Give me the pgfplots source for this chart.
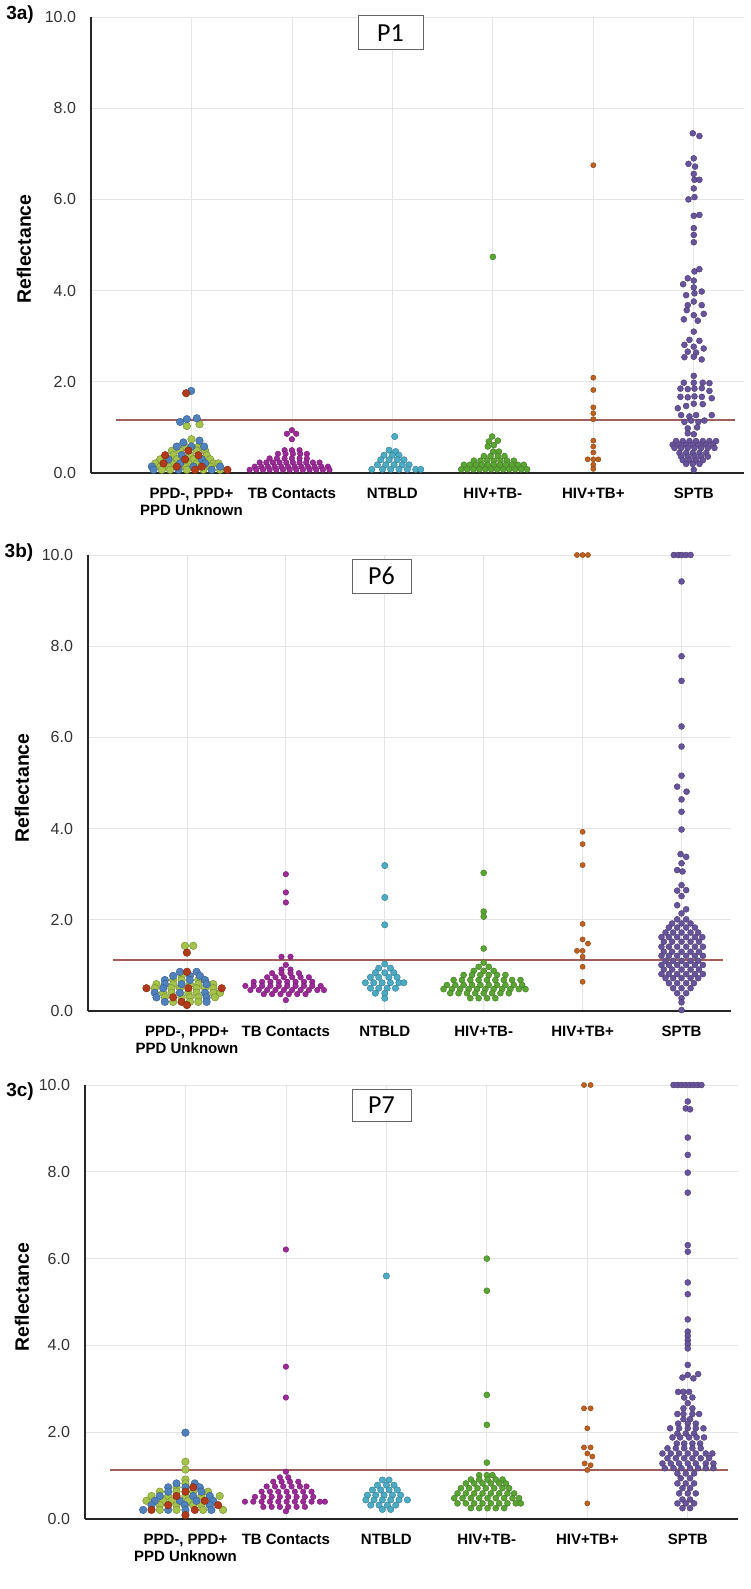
\documentclass[border=0pt]{standalone}
\usepackage{pgfplots}
\pgfplotsset{compat=1.18}
\usepackage{fontspec}
\setmainfont{Liberation Sans}
\newfontfamily\pfont{Carlito}
\definecolor{cblue}{RGB}{79,129,189}
\definecolor{cgreen}{RGB}{165,194,73}
\definecolor{cred}{RGB}{176,58,26}
\definecolor{cmag}{RGB}{158,42,154}
\definecolor{ccyan}{RGB}{75,172,198}
\definecolor{chivn}{RGB}{90,166,50}
\definecolor{chivp}{RGB}{192,96,30}
\definecolor{cpur}{RGB}{104,84,156}
\definecolor{cthr}{RGB}{160,95,90}
\pgfplotsset{
  panel/.style={
    scale only axis,
    xmin=-1, xmax=5.5, ymin=0, ymax=10,
    axis x line=bottom, axis y line=left,
    axis line style={-, line width=0.8pt, black!85},
    xtick={0,1,2,3,4,5},
    xticklabels={{PPD-, PPD+\\PPD Unknown},TB Contacts,NTBLD,HIV+TB-,HIV+TB+,SPTB},
    xticklabel style={align=center, font=\bfseries\fontsize{7.5}{8.5}\selectfont, yshift=-4pt},
    ytick={0,2,4,6,8,10},
    yticklabel={\pgfmathprintnumber[fixed,fixed zerofill,precision=1,assume math mode=true]{\tick}},
    yticklabel style={font=\fontsize{8}{9.6}\selectfont, text=black!80, xshift=-4pt},
    major tick length=0pt,
    grid=major, major grid style={black!10, line width=0.4pt},
    clip=false,
  },
  dot/.style 2 args={only marks, mark=*, mark size=#2, mark options={fill=#1, draw=#1!70!black, line width=0.2pt}},
  ppdb/.style={dot={cblue}{1.9pt}},
  ppdg/.style={dot={cgreen}{1.9pt}},
  ppdr/.style={dot={cred}{1.9pt}},
  tbc/.style={dot={cmag}{1.4pt}},
  ntb/.style={dot={ccyan}{1.6pt}},
  hivn/.style={dot={chivn}{1.5pt}},
  hivp/.style={dot={chivp}{1.3pt}},
  sptb/.style={dot={cpur}{1.5pt}},
  thr/.style={cthr, line width=1.1pt, forget plot},
}
\begin{document}
\begin{tikzpicture}[x=1pt,y=1pt]
\useasboundingbox (0,0) rectangle (375,-794.5);
% ---------------- panel a
\begin{axis}[panel, at={(45.5pt,-236.5pt)}, anchor=south west, width=326.5pt, height=228pt]
\addplot[ppdg] coordinates {(-0.046,1.03) (0.080,1.07) (0,0.74) (-0.063,0.58) (0.070,0.58) (-0.195,0.49) (-0.113,0.49) (0.053,0.49) (0.136,0.49) (-0.179,0.39) (-0.013,0.39) (0.152,0.39) (-0.311,0.30) (-0.146,0.30) (0.020,0.30) (0.186,0.30) (-0.361,0.21) (-0.195,0.21) (-0.030,0.21) (0.053,0.21) (0.219,0.21) (0.268,0.21) (-0.311,0.14) (-0.229,0.14) (-0.063,0.14) (0.186,0.14) (-0.295,0.07) (-0.212,0.07) (-0.046,0.07) (0.119,0.07) (0.285,0.07)};
\addplot[ppdb] coordinates {(-0.003,1.80) (-0.113,1.12) (-0.046,1.18) (0.053,1.20) (-0.080,0.67) (0.080,0.71) (-0.146,0.58) (0,0.58) (0.126,0.58) (-0.096,0.39) (-0.229,0.30) (0.103,0.30) (-0.113,0.21) (0.136,0.21) (-0.394,0.14) (0.020,0.14) (0.285,0.14) (-0.378,0.07) (-0.129,0.07) (0.202,0.07)};
\addplot[ppdr] coordinates {(-0.053,1.75) (-0.030,0.49) (-0.262,0.39) (0.070,0.39) (-0.063,0.30) (-0.278,0.21) (-0.146,0.14) (0.103,0.14) (0.036,0.07) (0.358,0.07)};
\addplot[tbc] coordinates {(1,0.94) (0.950,0.86) (1.043,0.86) (1,0.74)
(0.927,0.50) (1,0.50) (1.076,0.50)
(0.861,0.42) (0.937,0.42) (1.010,0.42) (1.083,0.42) (1.149,0.42)
(0.778,0.32) (0.851,0.32) (0.927,0.32) (1,0.32) (1.076,0.32) (1.149,0.32)
(0.679,0.23) (0.745,0.23) (0.811,0.23) (0.877,0.23) (0.944,0.23) (1.010,0.23) (1.076,0.23) (1.142,0.23) (1.209,0.23) (1.275,0.23)
(0.629,0.14) (0.695,0.14) (0.761,0.14) (0.828,0.14) (0.894,0.14) (0.960,0.14) (1.027,0.14) (1.093,0.14) (1.159,0.14) (1.225,0.14) (1.292,0.14) (1.358,0.14)
(0.579,0.07) (0.645,0.07) (0.712,0.07) (0.778,0.07) (0.844,0.07) (0.911,0.07) (0.977,0.07) (1.043,0.07) (1.109,0.07) (1.176,0.07) (1.242,0.07) (1.308,0.07) (1.374,0.07)};
\addplot[ntb] coordinates {(2.023,0.80) (1.967,0.50) (2.033,0.47)
(1.917,0.39) (2,0.39) (2.066,0.39)
(1.884,0.29) (1.967,0.29) (2.050,0.29) (2.116,0.29)
(1.851,0.18) (1.934,0.18) (2.017,0.18) (2.099,0.18) (2.166,0.18)
(1.795,0.08) (1.901,0.08) (1.983,0.08) (2.066,0.08) (2.149,0.08) (2.232,0.08) (2.282,0.08)};
\addplot[hivn] coordinates {(3,4.74) (2.993,0.80) (2.960,0.69) (3.050,0.71) (2.950,0.58) (3.010,0.61) (3.003,0.47) (3.060,0.47)
(2.911,0.37) (2.977,0.37) (3.050,0.37) (3.116,0.37)
(2.811,0.27) (2.877,0.27) (2.944,0.27) (3.010,0.27) (3.076,0.27) (3.142,0.27) (3.209,0.27)
(2.712,0.18) (2.771,0.18) (2.831,0.18) (2.891,0.18) (2.950,0.18) (3.010,0.18) (3.070,0.18) (3.129,0.18) (3.189,0.18) (3.249,0.18) (3.308,0.18)
(2.685,0.08) (2.745,0.08) (2.805,0.08) (2.864,0.08) (2.924,0.08) (2.983,0.08) (3.043,0.08) (3.103,0.08) (3.162,0.08) (3.222,0.08) (3.282,0.08) (3.341,0.08)};
\addplot[hivp] coordinates {(4,6.75) (4,2.09) (4,1.82) (4,1.44) (4,1.31) (4,1.18) (4,0.71) (4,0.58) (4,0.45) (3.944,0.30) (4,0.30) (4.050,0.30) (4,0.18) (4,0.09)};
\addplot[sptb] coordinates {(4.990,7.45) (5.056,7.39) (5,6.90) (4.947,6.78) (5.013,6.72) (5,6.56) (5.007,6.43) (5.056,6.43) (5,6.24) (4.947,6.00) (5.007,6.05) (5,5.64) (5.056,5.66) (5,5.37) (5,5.22) (5,5.06) (5.007,4.42) (5.056,4.47) (4.940,4.27) (5,4.22) (4.894,4.14) (5,4.07) (4.924,3.90) (5.007,3.94) (5.079,3.98) (5,3.76) (4.940,3.68) (5.079,3.68) (4.930,3.57) (5,3.46) (5.099,3.49) (4.901,3.37) (5.040,3.34) (5,3.10) (4.957,2.92) (5.056,2.90) (4.907,2.81) (5,2.77) (5.099,2.73) (4.940,2.66) (5.023,2.64) (4.907,2.54) (5,2.55) (5.079,2.49) (5,2.13)
(4.901,1.98) (5,1.98) (5.089,1.98) (5.156,1.97)
(4.867,1.85) (4.940,1.84) (5.007,1.85) (5.080,1.86) (5.156,1.80)
(4.867,1.67) (4.940,1.66) (5.007,1.68) (5.080,1.67) (5.179,1.64)
(4.841,1.42) (4.924,1.47) (5,1.52) (5.089,1.51)
(4.874,1.27) (4.957,1.24) (5.023,1.27) (5.179,1.27)
(4.907,1.12) (4.973,1.15) (5.046,1.12) (5.106,1.15)
(4.940,0.98) (5.033,1.00)
(4.940,0.87) (5,0.85)
(4.824,0.70) (4.890,0.70) (4.957,0.70) (5.023,0.70) (5.090,0.70) (5.156,0.70) (5.222,0.70)
(4.790,0.62) (4.857,0.62) (4.924,0.62) (4.990,0.62) (5.057,0.62) (5.124,0.62) (5.190,0.62)
(4.808,0.55) (4.874,0.55) (4.940,0.55) (5.007,0.55) (5.073,0.55) (5.140,0.55) (5.206,0.55)
(4.858,0.44) (4.924,0.44) (4.990,0.44) (5.057,0.44) (5.124,0.44)
(4.874,0.36) (4.940,0.36) (5.007,0.36) (5.073,0.36) (5.140,0.36)
(4.891,0.28) (4.957,0.28) (5.023,0.28) (5.090,0.28)
(4.924,0.20) (4.990,0.20) (5.057,0.20)
(5,0.07)};
\addplot[thr] coordinates {(-0.75,1.16) (5.41,1.16)};
\end{axis}
% ---------------- panel b
\begin{axis}[panel, at={(44pt,-505.5pt)}, anchor=south west, width=321.5pt, height=228pt]
\addplot[ppdg] coordinates {(-0.020,1.43) (0.064,1.43) (-0.054,0.77) (-0.139,0.68) (-0.054,0.68) (0.115,0.68) (-0.308,0.59) (-0.139,0.59) (0.030,0.59) (0.115,0.59) (0.267,0.59) (-0.325,0.50) (-0.156,0.50) (-0.071,0.50) (0.098,0.50) (0.183,0.50) (0.267,0.50) (-0.240,0.40) (-0.156,0.40) (0.014,0.40) (0.098,0.40) (0.267,0.40) (0.335,0.40) (-0.223,0.30) (-0.054,0.30) (0.030,0.30) (0.115,0.30) (0.284,0.30) (-0.139,0.20) (0.030,0.20) (0.115,0.20)};
\addplot[ppdb] coordinates {(-0.071,0.86) (0.098,0.86) (-0.139,0.77) (0.030,0.77) (0.132,0.77) (-0.223,0.68) (0.030,0.68) (0.183,0.68) (-0.223,0.59) (-0.054,0.59) (0.199,0.59) (-0.240,0.50) (-0.325,0.40) (-0.071,0.40) (0.183,0.40) (-0.308,0.30) (0.199,0.30) (-0.223,0.20) (0.199,0.20)};
\addplot[ppdr] coordinates {(0,1.28) (0,0.86) (-0.409,0.50) (0.014,0.50) (0.352,0.50) (-0.139,0.30) (-0.054,0.20) (0,0.13)};
\addplot[tbc] coordinates {(1,3.00) (1,2.60) (1,2.38) (0.956,1.19) (1.047,1.19) (1,1.01)
(0.956,0.91) (1.047,0.91)
(0.861,0.83) (0.956,0.83) (1.047,0.83) (1.132,0.83)
(0.811,0.74) (0.895,0.74) (0.980,0.74) (1.064,0.74) (1.149,0.74) (1.233,0.74)
(0.675,0.64) (0.760,0.64) (0.844,0.64) (0.929,0.64) (1.014,0.64) (1.098,0.64) (1.183,0.64) (1.267,0.64)
(0.591,0.55) (0.675,0.55) (0.760,0.55) (0.844,0.55) (0.929,0.55) (1.014,0.55) (1.098,0.55) (1.183,0.55) (1.267,0.55) (1.352,0.55)
(0.642,0.46) (0.726,0.46) (0.811,0.46) (0.895,0.46) (0.980,0.46) (1.064,0.46) (1.149,0.46) (1.233,0.46) (1.318,0.46) (1.385,0.46)
(0.777,0.37) (0.861,0.37) (0.946,0.37) (1.030,0.37) (1.115,0.37) (1.199,0.37)
(1,0.24)};
\addplot[ntb] coordinates {(2,3.19) (2,2.49) (2,1.89) (2,1.03) (1.939,0.94) (2.057,0.94)
(1.905,0.84) (2,0.84) (2.091,0.84)
(1.855,0.74) (1.939,0.74) (2.041,0.74) (2.125,0.74)
(1.804,0.62) (1.888,0.62) (1.973,0.62) (2.057,0.62) (2.142,0.62) (2.193,0.62)
(1.855,0.50) (1.939,0.50) (2.024,0.50) (2.108,0.50)
(1.905,0.39) (2,0.39) (2,0.28)};
\addplot[hivn] coordinates {(3,3.03) (3,2.18) (3,2.07) (3,1.37) (3,1.06) (2.949,0.97) (3.051,0.97)
(2.899,0.88) (3,0.88) (3.101,0.88)
(2.797,0.79) (2.882,0.79) (2.966,0.79) (3.051,0.79) (3.135,0.79) (3.220,0.79)
(2.696,0.68) (2.780,0.68) (2.865,0.68) (2.949,0.68) (3.034,0.68) (3.118,0.68) (3.203,0.68) (3.287,0.68) (3.372,0.68)
(2.628,0.57) (2.713,0.57) (2.797,0.57) (2.882,0.57) (2.966,0.57) (3.051,0.57) (3.135,0.57) (3.220,0.57) (3.304,0.57) (3.389,0.57)
(2.594,0.48) (2.679,0.48) (2.763,0.48) (2.848,0.48) (2.932,0.48) (3.017,0.48) (3.101,0.48) (3.186,0.48) (3.270,0.48) (3.355,0.48) (3.423,0.48)
(2.662,0.39) (2.746,0.39) (2.831,0.39) (2.915,0.39) (3,0.39) (3.085,0.39) (3.169,0.39) (3.254,0.39)
(2.865,0.28) (2.949,0.28) (3.034,0.28) (3.118,0.28)};
\addplot[hivp] coordinates {(3.943,10) (4,10) (4.054,10) (4,3.93) (4,3.66) (4,3.20) (4,1.91) (4,1.57) (4.054,1.48) (3.943,1.32) (4,1.32) (4,1.19) (4,0.97) (4,0.64)};
\addplot[sptb] coordinates {(4.922,10) (4.966,10) (5,10) (5.044,10) (5.091,10)
(5,9.42) (5,7.78) (5,7.24) (5,6.24) (5,5.80) (5,5.16) (4.956,4.92) (5.051,4.81) (5,4.64) (5,4.37) (5,3.98) (4.990,3.44) (5.047,3.38) (5,3.24) (4.956,3.09) (5.010,3.06)
(5,2.76) (4.956,2.64) (5.047,2.65) (5,2.52) (4.956,2.32) (5.047,2.23) (5,2.14)
(4.956,2.01) (5.047,2.01)
(4.905,1.92) (5,1.92) (5.091,1.92)
(4.872,1.83) (4.956,1.83) (5.047,1.83) (5.135,1.83)
(4.838,1.72) (4.915,1.72) (5,1.72) (5.091,1.72) (5.169,1.72)
(4.797,1.62) (4.872,1.62) (4.956,1.62) (5.047,1.62) (5.135,1.62) (5.210,1.62)
(4.821,1.52) (4.905,1.52) (5,1.52) (5.091,1.52) (5.176,1.52)
(4.797,1.41) (4.872,1.41) (4.956,1.41) (5.047,1.41) (5.135,1.41) (5.216,1.41)
(4.821,1.30) (4.905,1.30) (5,1.30) (5.091,1.30) (5.176,1.30)
(4.797,1.21) (4.872,1.21) (4.956,1.21) (5.047,1.21) (5.135,1.21) (5.216,1.21)
(4.838,1.10) (4.915,1.10) (5,1.10) (5.091,1.10) (5.169,1.10)
(4.797,1.01) (4.872,1.01) (4.956,1.01) (5.047,1.01) (5.135,1.01) (5.216,1.01)
(4.821,0.91) (4.905,0.91) (5,0.91) (5.091,0.91) (5.176,0.91)
(4.797,0.81) (4.872,0.81) (4.956,0.81) (5.047,0.81) (5.135,0.81) (5.216,0.81)
(4.838,0.72) (4.915,0.72) (5,0.72) (5.091,0.72) (5.169,0.72)
(4.872,0.61) (4.956,0.61) (5.047,0.61) (5.125,0.61)
(4.915,0.50) (5,0.50) (5.091,0.50)
(4.956,0.39) (5.047,0.39)
(5,0.28) (5,0.19) (5,0.02)};
\addplot[thr] coordinates {(-0.75,1.12) (5.42,1.12)};
\end{axis}
% ---------------- panel c
\begin{axis}[panel, at={(42.5pt,-759.5pt)}, anchor=south west, width=326.5pt, height=217pt]
\addplot[ppdg] coordinates {(0,1.32) (0,1.14) (0,0.91) (0,0.82) (-0.089,0.73) (-0.255,0.63) (-0.089,0.63) (0.076,0.63) (0.225,0.63) (-0.338,0.53) (-0.172,0.53) (0,0.53) (0.159,0.53) (0.341,0.53) (-0.388,0.42) (-0.222,0.42) (-0.139,0.42) (0.027,0.42) (-0.255,0.32) (-0.089,0.32) (0.076,0.32) (0.159,0.32) (-0.255,0.21) (-0.089,0.21) (0.176,0.21) (0.374,0.21)};
\addplot[ppdb] coordinates {(0,1.99) (-0.089,0.82) (0.093,0.82) (-0.172,0.73) (0,0.73) (0.142,0.73) (-0.172,0.63) (0.159,0.63) (-0.255,0.53) (0.076,0.53) (0.242,0.53) (-0.305,0.42) (-0.056,0.42) (0.109,0.42) (0.275,0.42) (-0.338,0.32) (-0.007,0.32) (0.242,0.32) (-0.421,0.21) (-0.172,0.21) (0,0.21) (0.258,0.21)};
\addplot[ppdr] coordinates {(0.076,0.73) (0,0.63) (-0.089,0.53) (0.192,0.42) (-0.172,0.32) (0.325,0.32) (-0.338,0.21) (0.093,0.21) (0,0.09)};
\addplot[tbc] coordinates {(1,6.21) (1,3.51) (1,2.80) (1,1.09)
(0.940,0.96) (1.023,0.96)
(0.874,0.86) (0.957,0.86) (1.040,0.86) (1.123,0.86)
(0.808,0.75) (0.891,0.75) (0.973,0.75) (1.056,0.75) (1.139,0.75) (1.205,0.75)
(0.758,0.63) (0.841,0.63) (0.924,0.63) (1.007,0.63) (1.089,0.63) (1.172,0.63) (1.255,0.63)
(0.692,0.51) (0.775,0.51) (0.858,0.51) (0.940,0.51) (1.023,0.51) (1.106,0.51) (1.189,0.51) (1.272,0.51)
(0.592,0.40) (0.675,0.40) (0.758,0.40) (0.841,0.40) (0.924,0.40) (1.007,0.40) (1.089,0.40) (1.172,0.40) (1.255,0.40) (1.338,0.40) (1.388,0.40)
(0.775,0.28) (0.858,0.28) (0.940,0.28) (1.023,0.28) (1.106,0.28) (1.189,0.28)
(1,0.18)};
\addplot[ntb] coordinates {(2,5.60) (1.960,0.90) (2.027,0.90)
(1.911,0.78) (2,0.78) (2.076,0.78)
(1.861,0.67) (1.944,0.67) (2.027,0.67) (2.109,0.67)
(1.811,0.55) (1.894,0.55) (1.977,0.55) (2.060,0.55) (2.142,0.55)
(1.795,0.44) (1.877,0.44) (1.960,0.44) (2.043,0.44) (2.126,0.44) (2.209,0.44)
(1.844,0.32) (1.927,0.32) (2.010,0.32) (2.093,0.32)
(1.960,0.22) (2.043,0.22)};
\addplot[hivn] coordinates {(3,6.00) (3,5.26) (3,2.86) (3,2.17) (3,1.30)
(2.924,1.01) (3,1.01) (3.056,1.01)
(2.841,0.91) (2.924,0.91) (3.007,0.91) (3.089,0.91) (3.156,0.91)
(2.791,0.82) (2.874,0.82) (2.957,0.82) (3.040,0.82) (3.123,0.82) (3.189,0.82)
(2.742,0.71) (2.824,0.71) (2.907,0.71) (2.990,0.71) (3.073,0.71) (3.156,0.71) (3.222,0.71)
(2.708,0.59) (2.791,0.59) (2.874,0.59) (2.957,0.59) (3.040,0.59) (3.123,0.59) (3.205,0.59) (3.272,0.59)
(2.675,0.48) (2.758,0.48) (2.841,0.48) (2.924,0.48) (3.007,0.48) (3.089,0.48) (3.172,0.48) (3.255,0.48) (3.321,0.48)
(2.708,0.36) (2.791,0.36) (2.874,0.36) (2.957,0.36) (3.040,0.36) (3.123,0.36) (3.205,0.36) (3.288,0.36) (3.338,0.36)
(2.841,0.25) (2.924,0.25) (3.007,0.25) (3.089,0.25) (3.172,0.25)};
\addplot[hivp] coordinates {(3.967,10) (4.033,10) (3.967,2.55) (4.033,2.55) (4,2.09) (3.967,1.65) (4.033,1.65) (4,1.51) (4.050,1.44) (3.973,1.28) (4.033,1.24) (4,1.13) (4,0.36)};
\addplot[sptb] coordinates {(4.858,10) (4.898,10) (4.937,10) (4.977,10) (5.017,10) (5.056,10) (5.096,10) (5.136,10)
(5,9.62) (4.980,9.46) (5.023,9.44) (5,8.79) (5,8.39) (5,7.98) (5,7.52) (5,6.31) (5,6.16) (5,5.45) (5,5.18) (5,4.60) (5,4.32) (5,4.22) (5,4.12) (5,4.03) (5,3.93) (5,3.55) (4.947,3.26) (5,3.32) (5.056,3.24) (5.103,3.34)
(4.904,2.93) (4.957,2.93) (5.013,2.93)
(4.964,2.80) (5.046,2.80)
(5,2.67)
(4.957,2.55) (5.046,2.55)
(4.897,2.42) (4.957,2.42) (5.046,2.42) (5.113,2.42)
(4.957,2.30) (5.023,2.30)
(4.904,2.20) (5,2.20) (5.080,2.20)
(4.824,2.09) (4.914,2.09) (5,2.09) (5.080,2.09) (5.156,2.09)
(4.897,1.97) (4.980,1.97) (5.063,1.97)
(4.848,1.88) (4.924,1.88) (5.013,1.88) (5.089,1.88) (5.162,1.88)
(4.891,1.74) (4.964,1.74) (5.046,1.74) (5.123,1.74)
(4.798,1.63) (4.881,1.63) (4.964,1.63) (5.046,1.63) (5.129,1.63)
(4.748,1.51) (4.831,1.51) (4.914,1.51) (5,1.51) (5.080,1.51) (5.179,1.51) (5.245,1.51)
(4.798,1.40) (4.881,1.40) (4.964,1.40) (5.046,1.40) (5.129,1.40) (5.212,1.40)
(4.748,1.28) (4.831,1.28) (4.914,1.28) (5,1.28) (5.080,1.28) (5.179,1.28) (5.255,1.28)
(4.771,1.17) (4.858,1.17) (4.937,1.17) (5.023,1.17) (5.103,1.17) (5.179,1.17) (5.255,1.17)
(4.897,1.05) (4.980,1.05) (5.063,1.05)
(4.930,0.94) (5.023,0.94)
(4.897,0.82) (4.980,0.82) (5.063,0.82)
(4.947,0.71) (5.023,0.71)
(4.914,0.59) (5,0.59) (5.080,0.59)
(4.947,0.45) (5.023,0.45)
(4.897,0.36) (4.980,0.36) (5.063,0.36)
(4.947,0.25) (5.023,0.25)};
\addplot[thr] coordinates {(-0.755,1.13) (5.40,1.13)};
\end{axis}
% ---------------- labels
\node[font=\bfseries\fontsize{9.5}{11}\selectfont] at (10,-7.5) {3a)};
\node[font=\bfseries\fontsize{9.5}{11}\selectfont] at (9.5,-276.5) {3b)};
\node[font=\bfseries\fontsize{9.5}{11}\selectfont] at (10,-546) {3c)};
\node[font=\bfseries\fontsize{9.7}{11}\selectfont, rotate=90] at (12,-124.5) {Reflectance};
\node[font=\bfseries\fontsize{9.7}{11}\selectfont, rotate=90] at (11,-394) {Reflectance};
\node[font=\bfseries\fontsize{9.7}{11}\selectfont, rotate=90] at (11,-648.5) {Reflectance};
\node[draw=black!60, line width=0.5pt, fill=white, minimum width=32.5pt, minimum height=17pt, inner sep=0pt, font=\pfont\fontsize{13}{14}\selectfont] at (195.25,-16.5) {P1};
\node[draw=black!60, line width=0.5pt, fill=white, minimum width=29.5pt, minimum height=17pt, inner sep=0pt, font=\pfont\fontsize{13}{14}\selectfont] at (190.75,-288) {P6};
\node[draw=black!60, line width=0.5pt, fill=white, minimum width=29.5pt, minimum height=16pt, inner sep=0pt, font=\pfont\fontsize{13}{14}\selectfont] at (190.75,-552.5) {P7};
\end{tikzpicture}
\end{document}
